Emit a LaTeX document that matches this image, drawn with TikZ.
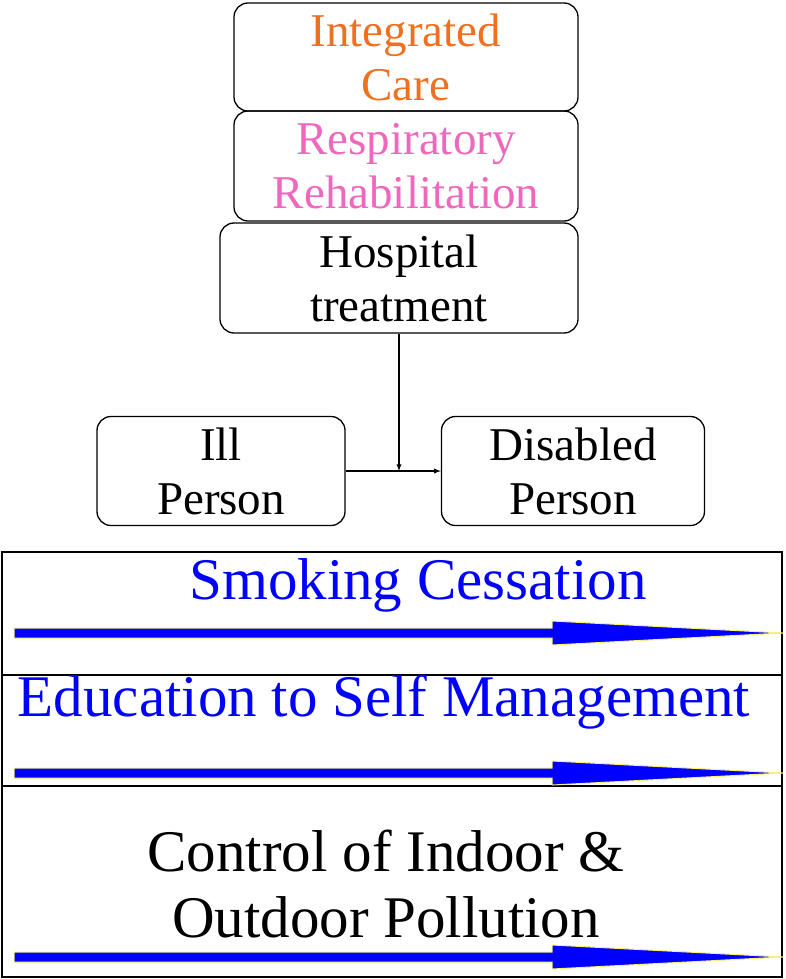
\documentclass[tikz,border=0pt]{standalone}
\usepackage{fontspec}
\setmainfont{Liberation Serif}
\definecolor{orng}{RGB}{240,112,32}
\definecolor{pnk}{RGB}{238,104,190}
\definecolor{yel}{RGB}{250,240,120}
\begin{document}
\begin{tikzpicture}[x=1pt,y=-1pt,
  box/.style={draw,rounded corners=14pt,line width=1.3pt,align=center,inner sep=0pt,font=\fontsize{47}{54}\selectfont},
  band/.style={draw,line width=2pt},
  bigarrow/.style={fill=blue,draw=yel,line width=1pt},
  bandtext/.style={font=\fontsize{59}{66}\selectfont}]
\useasboundingbox (0,0) rectangle (785,979);
\node[box,minimum width=344pt,minimum height=108pt,text=orng] (ic) at (406,57) {Integrated\\Care};
\node[box,minimum width=344pt,minimum height=110pt,text=pnk] (rr) at (406,166) {Respiratory\\Rehabilitation};
\node[box,minimum width=358pt,minimum height=110pt] (ht) at (399,278) {Hospital\\treatment};
\node[box,minimum width=248pt,minimum height=109pt] (ill) at (221,471) {Ill\\Person};
\node[box,minimum width=263pt,minimum height=109pt] (dis) at (573,471) {Disabled\\Person};
\draw[-latex,line width=1.3pt] (ill) -- (dis);
\coordinate (m) at (ht.south |- ill.east);
\draw[-latex,line width=1.3pt] (ht.south) -- (m);
\draw[band] (2,552) rectangle (782,675);
\draw[band] (2,675) rectangle (782,786);
\draw[band] (2,786) rectangle (782,977);
\node[bandtext,text=blue] (t1) at (418,585) {Smoking Cessation};
\node[bandtext,text=blue] (t2) at (384,702) {Education to Self Management};
\node[bandtext,align=center] (t3) at (386,884) {Control of Indoor \&\\Outdoor Pollution};
\foreach \yy in {633,773,957}{
  \draw[bigarrow] (14,\yy-5) -- (552,\yy-5) -- (552,\yy-12) -- (783,\yy) -- (552,\yy+12) -- (552,\yy+5) -- (14,\yy+5) -- cycle;
}
\end{tikzpicture}
\end{document}
